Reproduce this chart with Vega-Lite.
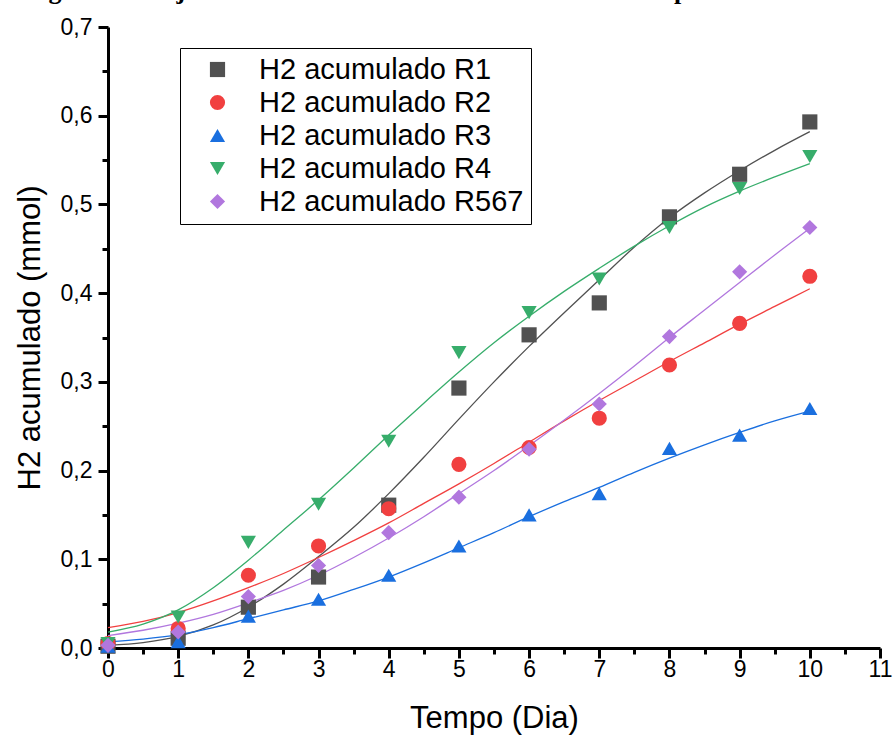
{
  "$schema": "https://vega.github.io/schema/vega-lite/v6.json",
  "width": 772,
  "height": 621,
  "autosize": {"type": "none"},
  "padding": {"left": 108, "top": 27, "right": 16, "bottom": 94},
  "background": "white",
  "title": {
    "text": "Figura 13 – Ajustes dos dados utilizando o modelo de Gompertz modificado",
    "font": "Liberation Serif",
    "fontWeight": "bold",
    "fontSize": 26,
    "anchor": "middle",
    "frame": "group",
    "baseline": "alphabetic",
    "offset": 4,
    "dy": 13,
    "dx": -50,
    "color": "black"
  },
  "config": {"view": {"stroke": null}, "font": "Liberation Sans"},
  "datasets": {
    "points": [
      {"serie": "H2 acumulado R1", "dia": 0, "h2": 0.002},
      {"serie": "H2 acumulado R1", "dia": 1, "h2": 0.011},
      {"serie": "H2 acumulado R1", "dia": 2, "h2": 0.046},
      {"serie": "H2 acumulado R1", "dia": 3, "h2": 0.080},
      {"serie": "H2 acumulado R1", "dia": 4, "h2": 0.161},
      {"serie": "H2 acumulado R1", "dia": 5, "h2": 0.293},
      {"serie": "H2 acumulado R1", "dia": 6, "h2": 0.353},
      {"serie": "H2 acumulado R1", "dia": 7, "h2": 0.389},
      {"serie": "H2 acumulado R1", "dia": 8, "h2": 0.486},
      {"serie": "H2 acumulado R1", "dia": 9, "h2": 0.534},
      {"serie": "H2 acumulado R1", "dia": 10, "h2": 0.593},
      {"serie": "H2 acumulado R2", "dia": 0, "h2": 0.005},
      {"serie": "H2 acumulado R2", "dia": 1, "h2": 0.022},
      {"serie": "H2 acumulado R2", "dia": 2, "h2": 0.082},
      {"serie": "H2 acumulado R2", "dia": 3, "h2": 0.115},
      {"serie": "H2 acumulado R2", "dia": 4, "h2": 0.157},
      {"serie": "H2 acumulado R2", "dia": 5, "h2": 0.207},
      {"serie": "H2 acumulado R2", "dia": 6, "h2": 0.226},
      {"serie": "H2 acumulado R2", "dia": 7, "h2": 0.259},
      {"serie": "H2 acumulado R2", "dia": 8, "h2": 0.319},
      {"serie": "H2 acumulado R2", "dia": 9, "h2": 0.366},
      {"serie": "H2 acumulado R2", "dia": 10, "h2": 0.419},
      {"serie": "H2 acumulado R3", "dia": 0, "h2": 0.002},
      {"serie": "H2 acumulado R3", "dia": 1, "h2": 0.007},
      {"serie": "H2 acumulado R3", "dia": 2, "h2": 0.036},
      {"serie": "H2 acumulado R3", "dia": 3, "h2": 0.055},
      {"serie": "H2 acumulado R3", "dia": 4, "h2": 0.082},
      {"serie": "H2 acumulado R3", "dia": 5, "h2": 0.115},
      {"serie": "H2 acumulado R3", "dia": 6, "h2": 0.150},
      {"serie": "H2 acumulado R3", "dia": 7, "h2": 0.174},
      {"serie": "H2 acumulado R3", "dia": 8, "h2": 0.225},
      {"serie": "H2 acumulado R3", "dia": 9, "h2": 0.240},
      {"serie": "H2 acumulado R3", "dia": 10, "h2": 0.270},
      {"serie": "H2 acumulado R4", "dia": 0, "h2": 0.005},
      {"serie": "H2 acumulado R4", "dia": 1, "h2": 0.035},
      {"serie": "H2 acumulado R4", "dia": 2, "h2": 0.119},
      {"serie": "H2 acumulado R4", "dia": 3, "h2": 0.162},
      {"serie": "H2 acumulado R4", "dia": 4, "h2": 0.233},
      {"serie": "H2 acumulado R4", "dia": 5, "h2": 0.333},
      {"serie": "H2 acumulado R4", "dia": 6, "h2": 0.378},
      {"serie": "H2 acumulado R4", "dia": 7, "h2": 0.416},
      {"serie": "H2 acumulado R4", "dia": 8, "h2": 0.474},
      {"serie": "H2 acumulado R4", "dia": 9, "h2": 0.518},
      {"serie": "H2 acumulado R4", "dia": 10, "h2": 0.554},
      {"serie": "H2 acumulado R567", "dia": 0, "h2": 0.003},
      {"serie": "H2 acumulado R567", "dia": 1, "h2": 0.018},
      {"serie": "H2 acumulado R567", "dia": 2, "h2": 0.058},
      {"serie": "H2 acumulado R567", "dia": 3, "h2": 0.093},
      {"serie": "H2 acumulado R567", "dia": 4, "h2": 0.130},
      {"serie": "H2 acumulado R567", "dia": 5, "h2": 0.170},
      {"serie": "H2 acumulado R567", "dia": 6, "h2": 0.224},
      {"serie": "H2 acumulado R567", "dia": 7, "h2": 0.275},
      {"serie": "H2 acumulado R567", "dia": 8, "h2": 0.351},
      {"serie": "H2 acumulado R567", "dia": 9, "h2": 0.424},
      {"serie": "H2 acumulado R567", "dia": 10, "h2": 0.474}
    ],
    "fits": [
      {"serie": "H2 acumulado R1", "dia": 0, "h2": 0.003},
      {"serie": "H2 acumulado R1", "dia": 0.5, "h2": 0.006},
      {"serie": "H2 acumulado R1", "dia": 1, "h2": 0.013},
      {"serie": "H2 acumulado R1", "dia": 1.5, "h2": 0.026},
      {"serie": "H2 acumulado R1", "dia": 2, "h2": 0.046},
      {"serie": "H2 acumulado R1", "dia": 2.5, "h2": 0.072},
      {"serie": "H2 acumulado R1", "dia": 3, "h2": 0.103},
      {"serie": "H2 acumulado R1", "dia": 3.5, "h2": 0.136},
      {"serie": "H2 acumulado R1", "dia": 4, "h2": 0.174},
      {"serie": "H2 acumulado R1", "dia": 4.5, "h2": 0.215},
      {"serie": "H2 acumulado R1", "dia": 5, "h2": 0.258},
      {"serie": "H2 acumulado R1", "dia": 5.5, "h2": 0.300},
      {"serie": "H2 acumulado R1", "dia": 6, "h2": 0.340},
      {"serie": "H2 acumulado R1", "dia": 6.5, "h2": 0.378},
      {"serie": "H2 acumulado R1", "dia": 7, "h2": 0.415},
      {"serie": "H2 acumulado R1", "dia": 7.5, "h2": 0.452},
      {"serie": "H2 acumulado R1", "dia": 8, "h2": 0.485},
      {"serie": "H2 acumulado R1", "dia": 8.5, "h2": 0.513},
      {"serie": "H2 acumulado R1", "dia": 9, "h2": 0.538},
      {"serie": "H2 acumulado R1", "dia": 9.5, "h2": 0.561},
      {"serie": "H2 acumulado R1", "dia": 10, "h2": 0.582},
      {"serie": "H2 acumulado R2", "dia": 0, "h2": 0.023},
      {"serie": "H2 acumulado R2", "dia": 0.5, "h2": 0.030},
      {"serie": "H2 acumulado R2", "dia": 1, "h2": 0.040},
      {"serie": "H2 acumulado R2", "dia": 1.5, "h2": 0.053},
      {"serie": "H2 acumulado R2", "dia": 2, "h2": 0.068},
      {"serie": "H2 acumulado R2", "dia": 2.5, "h2": 0.084},
      {"serie": "H2 acumulado R2", "dia": 3, "h2": 0.102},
      {"serie": "H2 acumulado R2", "dia": 3.5, "h2": 0.121},
      {"serie": "H2 acumulado R2", "dia": 4, "h2": 0.141},
      {"serie": "H2 acumulado R2", "dia": 4.5, "h2": 0.163},
      {"serie": "H2 acumulado R2", "dia": 5, "h2": 0.185},
      {"serie": "H2 acumulado R2", "dia": 5.5, "h2": 0.208},
      {"serie": "H2 acumulado R2", "dia": 6, "h2": 0.232},
      {"serie": "H2 acumulado R2", "dia": 6.5, "h2": 0.256},
      {"serie": "H2 acumulado R2", "dia": 7, "h2": 0.279},
      {"serie": "H2 acumulado R2", "dia": 7.5, "h2": 0.301},
      {"serie": "H2 acumulado R2", "dia": 8, "h2": 0.323},
      {"serie": "H2 acumulado R2", "dia": 8.5, "h2": 0.344},
      {"serie": "H2 acumulado R2", "dia": 9, "h2": 0.365},
      {"serie": "H2 acumulado R2", "dia": 9.5, "h2": 0.385},
      {"serie": "H2 acumulado R2", "dia": 10, "h2": 0.405},
      {"serie": "H2 acumulado R3", "dia": 0, "h2": 0.007},
      {"serie": "H2 acumulado R3", "dia": 0.5, "h2": 0.010},
      {"serie": "H2 acumulado R3", "dia": 1, "h2": 0.015},
      {"serie": "H2 acumulado R3", "dia": 1.5, "h2": 0.023},
      {"serie": "H2 acumulado R3", "dia": 2, "h2": 0.033},
      {"serie": "H2 acumulado R3", "dia": 2.5, "h2": 0.043},
      {"serie": "H2 acumulado R3", "dia": 3, "h2": 0.053},
      {"serie": "H2 acumulado R3", "dia": 3.5, "h2": 0.066},
      {"serie": "H2 acumulado R3", "dia": 4, "h2": 0.080},
      {"serie": "H2 acumulado R3", "dia": 4.5, "h2": 0.096},
      {"serie": "H2 acumulado R3", "dia": 5, "h2": 0.113},
      {"serie": "H2 acumulado R3", "dia": 5.5, "h2": 0.130},
      {"serie": "H2 acumulado R3", "dia": 6, "h2": 0.148},
      {"serie": "H2 acumulado R3", "dia": 6.5, "h2": 0.165},
      {"serie": "H2 acumulado R3", "dia": 7, "h2": 0.181},
      {"serie": "H2 acumulado R3", "dia": 7.5, "h2": 0.198},
      {"serie": "H2 acumulado R3", "dia": 8, "h2": 0.214},
      {"serie": "H2 acumulado R3", "dia": 8.5, "h2": 0.229},
      {"serie": "H2 acumulado R3", "dia": 9, "h2": 0.243},
      {"serie": "H2 acumulado R3", "dia": 9.5, "h2": 0.256},
      {"serie": "H2 acumulado R3", "dia": 10, "h2": 0.267},
      {"serie": "H2 acumulado R4", "dia": 0, "h2": 0.018},
      {"serie": "H2 acumulado R4", "dia": 0.5, "h2": 0.027},
      {"serie": "H2 acumulado R4", "dia": 1, "h2": 0.043},
      {"serie": "H2 acumulado R4", "dia": 1.5, "h2": 0.068},
      {"serie": "H2 acumulado R4", "dia": 2, "h2": 0.099},
      {"serie": "H2 acumulado R4", "dia": 2.5, "h2": 0.133},
      {"serie": "H2 acumulado R4", "dia": 3, "h2": 0.167},
      {"serie": "H2 acumulado R4", "dia": 3.5, "h2": 0.203},
      {"serie": "H2 acumulado R4", "dia": 4, "h2": 0.240},
      {"serie": "H2 acumulado R4", "dia": 4.5, "h2": 0.276},
      {"serie": "H2 acumulado R4", "dia": 5, "h2": 0.311},
      {"serie": "H2 acumulado R4", "dia": 5.5, "h2": 0.344},
      {"serie": "H2 acumulado R4", "dia": 6, "h2": 0.374},
      {"serie": "H2 acumulado R4", "dia": 6.5, "h2": 0.402},
      {"serie": "H2 acumulado R4", "dia": 7, "h2": 0.428},
      {"serie": "H2 acumulado R4", "dia": 7.5, "h2": 0.453},
      {"serie": "H2 acumulado R4", "dia": 8, "h2": 0.476},
      {"serie": "H2 acumulado R4", "dia": 8.5, "h2": 0.497},
      {"serie": "H2 acumulado R4", "dia": 9, "h2": 0.515},
      {"serie": "H2 acumulado R4", "dia": 9.5, "h2": 0.531},
      {"serie": "H2 acumulado R4", "dia": 10, "h2": 0.546},
      {"serie": "H2 acumulado R567", "dia": 0, "h2": 0.014},
      {"serie": "H2 acumulado R567", "dia": 0.5, "h2": 0.020},
      {"serie": "H2 acumulado R567", "dia": 1, "h2": 0.028},
      {"serie": "H2 acumulado R567", "dia": 1.5, "h2": 0.038},
      {"serie": "H2 acumulado R567", "dia": 2, "h2": 0.051},
      {"serie": "H2 acumulado R567", "dia": 2.5, "h2": 0.065},
      {"serie": "H2 acumulado R567", "dia": 3, "h2": 0.082},
      {"serie": "H2 acumulado R567", "dia": 3.5, "h2": 0.102},
      {"serie": "H2 acumulado R567", "dia": 4, "h2": 0.124},
      {"serie": "H2 acumulado R567", "dia": 4.5, "h2": 0.148},
      {"serie": "H2 acumulado R567", "dia": 5, "h2": 0.174},
      {"serie": "H2 acumulado R567", "dia": 5.5, "h2": 0.200},
      {"serie": "H2 acumulado R567", "dia": 6, "h2": 0.228},
      {"serie": "H2 acumulado R567", "dia": 6.5, "h2": 0.257},
      {"serie": "H2 acumulado R567", "dia": 7, "h2": 0.287},
      {"serie": "H2 acumulado R567", "dia": 7.5, "h2": 0.318},
      {"serie": "H2 acumulado R567", "dia": 8, "h2": 0.350},
      {"serie": "H2 acumulado R567", "dia": 8.5, "h2": 0.381},
      {"serie": "H2 acumulado R567", "dia": 9, "h2": 0.412},
      {"serie": "H2 acumulado R567", "dia": 9.5, "h2": 0.443},
      {"serie": "H2 acumulado R567", "dia": 10, "h2": 0.473}
    ]
  },
  "layer": [
    {
      "data": {"name": "fits"},
      "mark": {"type": "line", "strokeWidth": 1.3, "interpolate": "monotone"},
      "encoding": {
        "x": {
          "field": "dia", "type": "quantitative",
          "scale": {"domain": [0, 11], "nice": false, "zero": false},
          "axis": {
            "orient": "bottom",
            "title": "Tempo (Dia)",
            "values": [0, 1, 2, 3, 4, 5, 6, 7, 8, 9, 10, 11],
            "format": "d",
            "grid": false,
            "labelFont": "Liberation Sans", "labelFontSize": 23, "labelColor": "black",
            "labelPadding": 0, "labelFlush": false, "labelOverlap": false,
            "titleFont": "Liberation Sans", "titleFontSize": 31, "titleFontWeight": "normal", "titleColor": "black",
            "titlePadding": 22,
            "tickSize": 10, "tickWidth": 3, "tickColor": "black",
            "domainWidth": 3, "domainColor": "black"
          }
        },
        "y": {
          "field": "h2", "type": "quantitative",
          "scale": {"domain": [0, 0.7], "nice": false},
          "axis": {
            "orient": "left",
            "title": "H2 acumulado (mmol)",
            "values": [0, 0.1, 0.2, 0.3, 0.4, 0.5, 0.6, 0.7],
            "labelExpr": "replace(format(datum.value, '.1f'), '.', ',')",
            "grid": false,
            "labelFont": "Liberation Sans", "labelFontSize": 23, "labelColor": "black",
            "labelPadding": 6, "labelFlush": false, "labelOverlap": false,
            "titleFont": "Liberation Sans", "titleFontSize": 31, "titleFontWeight": "normal", "titleColor": "black",
            "titlePadding": 14,
            "tickSize": 10, "tickWidth": 3, "tickColor": "black",
            "domainWidth": 3, "domainColor": "black"
          }
        },
        "stroke": {
          "field": "serie", "type": "nominal",
          "scale": {
            "range": ["#515151", "#F14040", "#1A6FDF", "#37AD6B", "#B177DE"]
          },
          "legend": null
        }
      }
    },
    {
      "data": {"name": "points"},
      "mark": {"type": "point", "filled": true, "opacity": 1, "size": 230},
      "encoding": {
        "x": {
          "field": "dia", "type": "quantitative",
          "axis": {
            "orient": "bottom",
            "title": null,
            "values": [0.5, 1.5, 2.5, 3.5, 4.5, 5.5, 6.5, 7.5, 8.5, 9.5, 10.5],
            "labels": false, "domain": false, "grid": false,
            "tickSize": 6, "tickWidth": 3, "tickColor": "black"
          }
        },
        "y": {
          "field": "h2", "type": "quantitative",
          "axis": {
            "orient": "left",
            "title": null,
            "values": [0.05, 0.15, 0.25, 0.35, 0.45, 0.55, 0.65],
            "labels": false, "domain": false, "grid": false,
            "tickSize": 6, "tickWidth": 3, "tickColor": "black"
          }
        },
        "color": {
          "field": "serie", "type": "nominal",
          "scale": {
            "domain": ["H2 acumulado R1", "H2 acumulado R2", "H2 acumulado R3", "H2 acumulado R4", "H2 acumulado R567"],
            "range": ["#515151", "#F14040", "#1A6FDF", "#37AD6B", "#B177DE"]
          },
          "legend": {
            "title": null,
            "orient": "none",
            "legendX": 72,
            "legendY": 21,
            "padding": 7,
            "strokeColor": "black",
            "labelFont": "Liberation Sans",
            "labelFontSize": 29,
            "labelColor": "black",
            "labelLimit": 400,
            "labelOffset": 27,
            "symbolOffset": 16,
            "symbolSize": 230,
            "rowPadding": 3
          }
        },
        "shape": {
          "field": "serie", "type": "nominal",
          "scale": {
            "domain": ["H2 acumulado R1", "H2 acumulado R2", "H2 acumulado R3", "H2 acumulado R4", "H2 acumulado R567"],
            "range": ["square", "circle", "triangle-up", "triangle-down", "diamond"]
          },
          "legend": {
            "title": null,
            "orient": "none",
            "legendX": 72,
            "legendY": 21,
            "padding": 7,
            "strokeColor": "black",
            "labelFont": "Liberation Sans",
            "labelFontSize": 29,
            "labelColor": "black",
            "labelLimit": 400,
            "labelOffset": 27,
            "symbolOffset": 16,
            "symbolSize": 230,
            "rowPadding": 3
          }
        }
      }
    }
  ],
  "resolve": {"axis": {"x": "independent", "y": "independent"}}
}
